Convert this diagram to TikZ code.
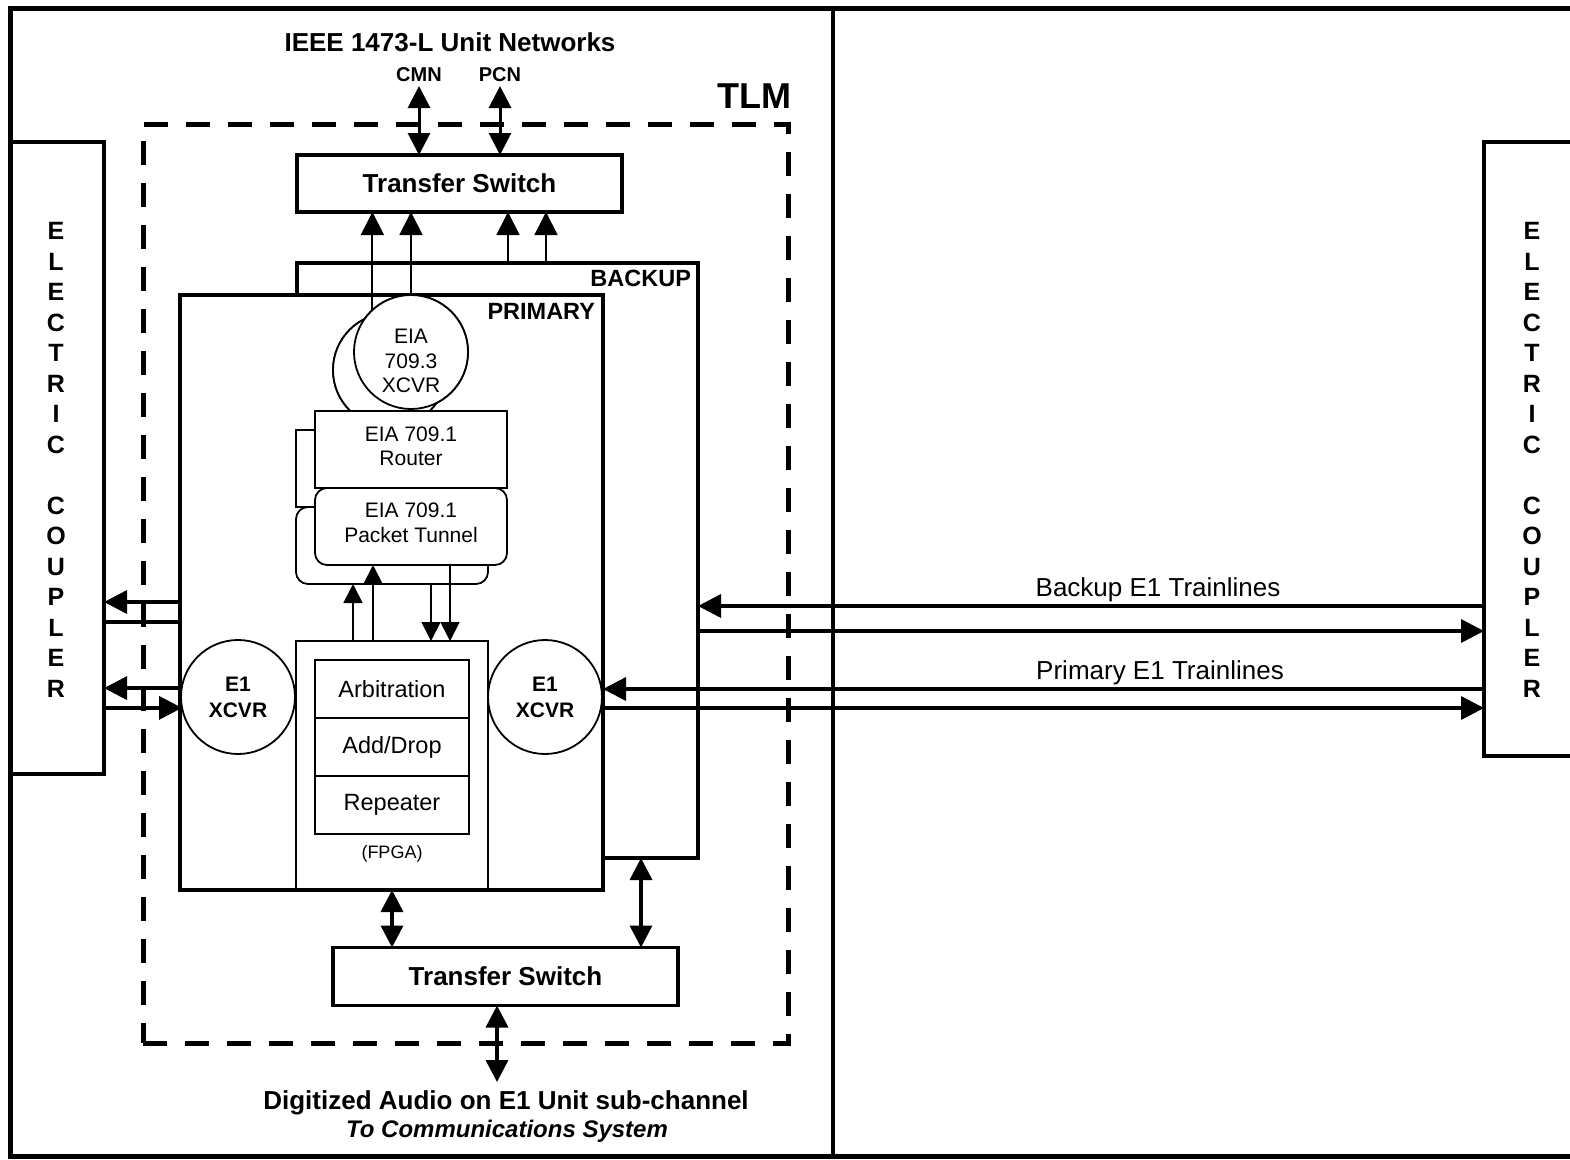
\documentclass[tikz,border=0pt]{standalone}
\usepackage{fontspec}
\setmainfont{Liberation Sans}
\usetikzlibrary{arrows.meta}
\begin{document}
\begin{tikzpicture}[x=1pt,y=-1pt,
  box/.style={draw, line width=3.5pt, fill=white, inner sep=0pt, outer sep=0pt},
  thinbox/.style={draw, line width=1.8pt, fill=white, inner sep=0pt, outer sep=0pt},
  circ/.style={draw, circle, line width=1.8pt, fill=white, inner sep=0pt, outer sep=0pt, minimum size=114pt},
  lbl/.style={inner sep=0pt, outer sep=0pt},
  bigtip/.style={-{Triangle[length=23pt,width=23pt]}},
  bigboth/.style={{Triangle[length=22pt,width=22pt]}-{Triangle[length=22pt,width=22pt]}},
  smalltip/.style={-{Triangle[length=19pt,width=19pt]}},
  thickline/.style={line width=3.5pt},
  thinline/.style={line width=1.8pt}
]
\useasboundingbox (0,0) rectangle (1570,1159);
\clip (0,0) rectangle (1570,1159);
\fill[white] (0,0) rectangle (1570,1159);

% frame
\draw[line width=5pt] (10,8) rectangle (1620,1156);
\draw[line width=4pt] (833,8) -- (833,1156);

% couplers
\node[box, minimum width=93pt, minimum height=632pt] (cl) at (57.5,458) {};
\node[lbl, align=center, font=\fontsize{25}{30.5}\selectfont\bfseries] (cltext) at (56,460)
  {E\\L\\E\\C\\T\\R\\I\\C\\[30.5pt]C\\O\\U\\P\\L\\E\\R};
\node[box, minimum width=120pt, minimum height=614pt] (cr) at (1544,449) {};
\node[lbl, align=center, font=\fontsize{25}{30.5}\selectfont\bfseries] (crtext) at (1532,460)
  {E\\L\\E\\C\\T\\R\\I\\C\\[30.5pt]C\\O\\U\\P\\L\\E\\R};

% TLM dashed box
\node[draw, line width=5pt, dash pattern=on 24pt off 18pt, inner sep=0pt, outer sep=0pt,
  minimum width=645pt, minimum height=919pt] (tlm) at (465.5,583.5) {};
\node[lbl, anchor=east, font=\fontsize{36}{40}\selectfont\bfseries] (tlmtext) at (791,96) {TLM};

% titles
\node[lbl, font=\fontsize{26}{30}\selectfont\bfseries] (title) at (450,42) {IEEE 1473-L Unit Networks};
\node[lbl, font=\fontsize{20}{24}\selectfont\bfseries] (cmn) at (419,75) {CMN};
\node[lbl, font=\fontsize{20}{24}\selectfont\bfseries] (pcn) at (500,75) {PCN};
\coordinate (cmnEnd) at (419,86);
\coordinate (pcnEnd) at (500,86);

% top transfer switch
\node[box, minimum width=325pt, minimum height=57pt, font=\fontsize{26}{30}\selectfont\bfseries] (ts1) at (459.5,183.5) {Transfer Switch};

% backup and primary boxes
\node[box, minimum width=401pt, minimum height=595pt] (bk) at (497.5,560.5) {};
\node[lbl, anchor=east, font=\fontsize{23.5}{27}\selectfont\bfseries] (bktext) at (691,278) {BACKUP};
\node[box, minimum width=423pt, minimum height=595pt] (pr) at (391.5,592.5) {};
\node[lbl, anchor=east, font=\fontsize{23.5}{27}\selectfont\bfseries] (prtext) at (595,311) {PRIMARY};

% EIA circles (positions for connectors)
\node[circ] (bc) at (390,370) {};
\node[circ] (fc) at (411,352) {};

% lines up to top transfer switch
\coordinate (xa) at (508,0);
\coordinate (xb) at (546,0);
\draw[thinline, bigtip] (bc.108) -- (bc.108 |- ts1.south);
\draw[thinline, bigtip] (fc.north) -- (fc.north |- ts1.south);
\draw[thinline, bigtip] (bk.north -| xa) -- (ts1.south -| xa);
\draw[thinline, bigtip] (bk.north -| xb) -- (ts1.south -| xb);

% redraw circles on top of lines
\node[circ] (bc2) at (390,370) {};
\node[circ] (fc2) at (411,352) {};
\node[lbl, align=center, font=\fontsize{21}{24.5}\selectfont] (fctext) at (411,361) {EIA\\709.3\\XCVR};

% router and tunnel
\node[thinbox, minimum width=192pt, minimum height=77pt] (brouter) at (392,468.5) {};
\node[thinbox, rounded corners=12pt, minimum width=192pt, minimum height=77pt] (btunnel) at (392,545.5) {};
\node[thinbox, minimum width=192pt, minimum height=77pt] (router) at (411,449.5) {};
\node[lbl, align=center, font=\fontsize{21}{24}\selectfont] (routertext) at (411,446.5) {EIA 709.1\\Router};
\node[thinbox, rounded corners=12pt, minimum width=192pt, minimum height=77pt] (tunnel) at (411,526.5) {};
\node[lbl, align=center, font=\fontsize{21}{25}\selectfont] (tunneltext) at (411,522.5) {EIA 709.1\\Packet Tunnel};

% FPGA
\node[thinbox, minimum width=192pt, minimum height=249pt] (fpga) at (392,765.5) {};
\node[thinbox, minimum width=154pt, minimum height=58pt, font=\fontsize{23.5}{27}\selectfont] (arb) at (392,689) {Arbitration};
\node[thinbox, minimum width=154pt, minimum height=58pt, font=\fontsize{23.5}{27}\selectfont] (add) at (392,747) {Add/Drop};
\node[thinbox, minimum width=154pt, minimum height=58pt, font=\fontsize{23.5}{27}\selectfont] (rep) at (392,805) {Repeater};
\node[lbl, font=\fontsize{18}{21}\selectfont] (fpgatext) at (392,854) {(FPGA)};
\draw[box, fill=none] (pr.south west) -- (pr.south east);

% E1 transceivers
\node[circ, align=center, font=\fontsize{21}{26}\selectfont\bfseries] (e1l) at (238,697) {E1\\XCVR};
\node[circ, align=center, font=\fontsize{21}{26}\selectfont\bfseries] (e1r) at (545,697) {E1\\XCVR};

% FPGA <-> tunnel arrows
\coordinate (xf1) at (353,0);
\coordinate (xf2) at (373,0);
\coordinate (xf3) at (431,0);
\coordinate (xf4) at (450,0);
\draw[thinline, smalltip] (fpga.north -| xf1) -- (btunnel.south -| xf1);
\draw[thinline, smalltip] (fpga.north -| xf2) -- (tunnel.south -| xf2);
\draw[thinline, smalltip] (btunnel.south -| xf3) -- (fpga.north -| xf3);
\draw[thinline, smalltip] (tunnel.south -| xf4) -- (fpga.north -| xf4);

% CMN / PCN
\draw[line width=3pt, bigboth] (cmnEnd) -- (ts1.north -| cmnEnd);
\draw[line width=3pt, bigboth] (pcnEnd) -- (ts1.north -| pcnEnd);

% left side connections
\coordinate (yb1) at (0,602);
\coordinate (yb2) at (0,622);
\draw[thickline, bigtip] (pr.west |- yb1) -- (cl.east |- yb1);
\draw[thickline] (cl.east |- yb2) -- (pr.west |- yb2);
\draw[thickline, bigtip] (e1l.171) -- (cl.east |- e1l.171);
\draw[thickline, bigtip] (cl.east |- e1l.191) -- (e1l.191);

% right side trainlines
\coordinate (ytb1) at (0,606);
\coordinate (ytb2) at (0,631);
\coordinate (ytp1) at (0,689);
\coordinate (ytp2) at (0,708);
\draw[thickline, bigtip] (cr.west |- ytb1) -- (bk.east |- ytb1);
\draw[thickline, bigtip] (bk.east |- ytb2) -- (cr.west |- ytb2);
\draw[thickline, bigtip] (cr.west |- ytp1) -- (pr.east |- ytp1);
\draw[thickline, bigtip] (pr.east |- ytp2) -- (cr.west |- ytp2);
\node[lbl, font=\fontsize{26}{29}\selectfont] (bktl) at (1158,590) {Backup E1 Trainlines};
\node[lbl, font=\fontsize{26}{29}\selectfont] (prtl) at (1160,673) {Primary E1 Trainlines};

% bottom transfer switch
\node[box, minimum width=345pt, minimum height=58pt, font=\fontsize{26}{30}\selectfont\bfseries] (ts2) at (505.5,976.5) {Transfer Switch};
\coordinate (xbs) at (641,0);
\coordinate (xout) at (497,0);
\coordinate (audioEnd) at (497,1082);
\draw[thickline, bigboth] (fpga.south) -- (fpga.south |- ts2.north);
\draw[thickline, bigboth] (bk.south -| xbs) -- (ts2.north -| xbs);
\draw[thickline, bigboth] (ts2.south -| xout) -- (audioEnd);

\node[lbl, font=\fontsize{26}{30}\selectfont\bfseries] (audio) at (506,1103) {Digitized Audio on E1 Unit sub-channel};
\node[lbl, font=\fontsize{24}{28}\selectfont\bfseries\itshape] (comms) at (507,1131) {To Communications System};
\end{tikzpicture}
\end{document}
